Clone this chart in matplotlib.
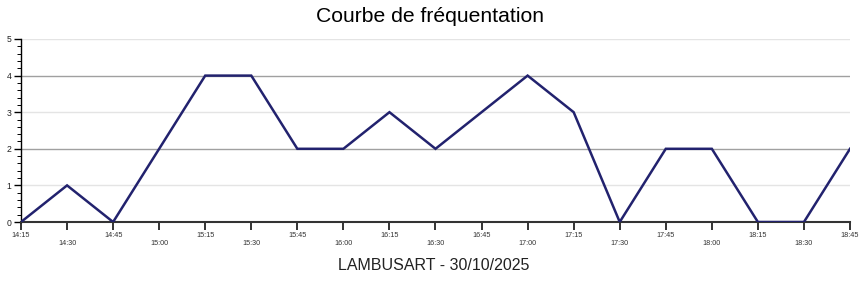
import numpy as np
from matplotlib import pyplot as plt
from matplotlib.ticker import MultipleLocator

plt.rcParams['font.family'] = ['Liberation Sans', 'DejaVu Sans']

times = ['14:15', '14:30', '14:45', '15:00', '15:15', '15:30', '15:45', '16:00',
         '16:15', '16:30', '16:45', '17:00', '17:15', '17:30', '17:45', '18:00',
         '18:15', '18:30', '18:45']
visitors = [0, 1, 0, 2, 4, 4, 2, 2, 3, 2, 3, 4, 3, 0, 2, 2, 0, 0, 2]

x = np.arange(len(times))

fig = plt.figure(figsize=(8.6, 2.84), dpi=100)
ax = fig.add_axes([21 / 860, 1 - 222 / 284, 829 / 860, 183 / 284])

# horizontal guides: darker on 2 and 4, light on the others
for yv in [1, 2, 3, 4, 5]:
    c = '#a0a0a0' if yv % 2 == 0 else '#e4e4e4'
    ax.axhline(yv, color=c, lw=1, zorder=0)

ax.plot(x, visitors, color='#22226e', lw=1.8, solid_joinstyle='miter', zorder=3)

ax.set_xlim(0, len(times) - 1)
ax.set_ylim(0, 5)

# alternate label rows: even indices on top row, odd below
ax.set_xticks(x[::2])
ax.set_xticklabels(times[::2])
ax.set_xticks(x[1::2], minor=True)
ax.set_xticklabels(times[1::2], minor=True)
ax.tick_params(axis='x', which='major', length=6, width=1.2, pad=1, labelsize=5.2,
               color='#111111', labelcolor='#333333')
ax.tick_params(axis='x', which='minor', length=6, width=1.2, pad=7, labelsize=5.2,
               color='#111111', labelcolor='#333333')

ax.yaxis.set_major_locator(MultipleLocator(1))
ax.yaxis.set_minor_locator(MultipleLocator(0.2))
ax.tick_params(axis='y', which='major', length=5, width=1, pad=2, labelsize=6.2, labelcolor='#222222')
ax.tick_params(axis='y', which='minor', length=3, width=0.7)

for s in ['top', 'right']:
    ax.spines[s].set_visible(False)
ax.spines['bottom'].set_linewidth(1.5)
ax.spines['bottom'].set_color('#333333')
ax.spines['left'].set_linewidth(1)

fig.text(0.5, 1 - 16 / 284, 'Courbe de fréquentation', ha='center', va='center', fontsize=15.2)
fig.text(434 / 860, 1 - 266 / 284, 'LAMBUSART - 30/10/2025', ha='center', va='center',
         fontsize=11.5, color='#222222')

fig.savefig('out.png', dpi=100)
